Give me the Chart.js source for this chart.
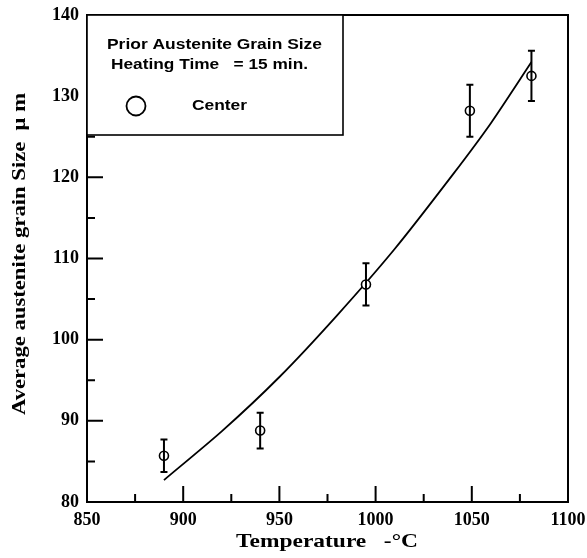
<!DOCTYPE html>
<html>
<head>
<meta charset="utf-8">
<script src="https://cdn.jsdelivr.net/npm/chart.js@4.4.1/dist/chart.umd.min.js"></script>
<style>
  html, body { margin: 0; padding: 0; background: #fff; }
  #wrap { width: 587px; height: 558px; }
</style>
</head>
<body>
<div id="wrap"><canvas id="grafico"></canvas></div>
<script>
// datos
const temperaturas = [890, 940, 995, 1049, 1081];
const tamanoGrano = [85.7, 88.8, 106.8, 128.2, 132.5];
const errorGrano = [2.0, 2.2, 2.6, 3.2, 3.1];

// curva ajustada
const ajusteT = [890, 920, 950, 980, 1010, 1040, 1060, 1081];
const ajusteV = [82.7, 88.7, 95.4, 103.0, 111.2, 120.3, 126.7, 134.2];

const xTicks = [850, 900, 950, 1000, 1050, 1100];
const yTicks = [80, 90, 100, 110, 120, 130, 140];

const tituloX = 'Temperature   -°C';
const tituloY = 'Average austenite grain Size  μ m';
const leyendaTitulo = 'Prior Austenite Grain Size';
const leyendaTiempo = 'Heating Time   = 15 min.';
const leyendaSerie = 'Center';

const fuenteSerif = '"Liberation Serif", "DejaVu Serif", serif';
const fuenteSans = '"Liberation Sans", Arial, sans-serif';

// texto estirado a un ancho dado
function textoAjustado(ctx, txt, x, y, ancho) {
  const w = ctx.measureText(txt).width;
  ctx.save();
  ctx.translate(x, y);
  ctx.scale(ancho / w, 1);
  ctx.fillText(txt, 0, 0);
  ctx.restore();
}

// marco, ticks hacia dentro, barras de error, titulos y leyenda
const pluginDibujo = {
  id: 'dibujo',
  afterDatasetsDraw(chart) {
    const ctx = chart.ctx;
    const xs = chart.scales.x, ys = chart.scales.y;
    ctx.save();
    ctx.strokeStyle = '#000';
    ctx.lineWidth = 2;
    temperaturas.forEach((t, i) => {
      const px = xs.getPixelForValue(t);
      const top = ys.getPixelForValue(tamanoGrano[i] + errorGrano[i]);
      const bot = ys.getPixelForValue(tamanoGrano[i] - errorGrano[i]);
      ctx.beginPath();
      ctx.moveTo(px, top); ctx.lineTo(px, bot);
      ctx.moveTo(px - 3.5, top); ctx.lineTo(px + 3.5, top);
      ctx.moveTo(px - 3.5, bot); ctx.lineTo(px + 3.5, bot);
      ctx.stroke();
    });
    ctx.restore();
  },
  afterDraw(chart) {
    const ctx = chart.ctx;
    const a = chart.chartArea;
    const xs = chart.scales.x, ys = chart.scales.y;
    ctx.save();
    ctx.strokeStyle = '#000';
    ctx.lineWidth = 2;
    ctx.strokeRect(a.left, a.top, a.right - a.left, a.bottom - a.top);

    ctx.beginPath();
    xs.ticks.forEach(tk => {
      if (tk.value <= xs.min || tk.value >= xs.max) return;
      const px = xs.getPixelForValue(tk.value);
      const len = tk.value % 50 === 0 ? 16 : 8;
      ctx.moveTo(px, a.bottom); ctx.lineTo(px, a.bottom - len);
    });
    ys.ticks.forEach(tk => {
      if (tk.value <= ys.min || tk.value >= ys.max) return;
      const py = ys.getPixelForValue(tk.value);
      const len = tk.value % 10 === 0 ? 16 : 8;
      ctx.moveTo(a.left, py); ctx.lineTo(a.left + len, py);
    });
    ctx.stroke();

    // titulos de ejes
    ctx.fillStyle = '#000';
    ctx.textBaseline = 'middle';
    ctx.textAlign = 'left';
    ctx.font = 'bold 19px ' + fuenteSerif;
    textoAjustado(ctx, tituloX, 236, 542, 182);
    ctx.save();
    ctx.translate(20, 415);
    ctx.rotate(-Math.PI / 2);
    textoAjustado(ctx, tituloY, 0, 0, 322);
    ctx.restore();

    // leyenda
    const bx = a.left, by = a.top, bw = 256, bh = 120;
    ctx.fillStyle = '#fff';
    ctx.fillRect(bx, by, bw, bh);
    ctx.lineWidth = 1.6;
    ctx.strokeRect(bx, by, bw, bh);
    ctx.fillStyle = '#000';
    ctx.font = 'bold 14px ' + fuenteSans;
    textoAjustado(ctx, leyendaTitulo, bx + 20, by + 30, 215);
    textoAjustado(ctx, leyendaTiempo, bx + 24, by + 50, 197);
    textoAjustado(ctx, leyendaSerie, bx + 105, by + 91, 55);
    ctx.lineWidth = 1.8;
    ctx.beginPath();
    ctx.arc(bx + 49, by + 91, 9.5, 0, Math.PI * 2);
    ctx.stroke();
    ctx.restore();
  }
};

new Chart(document.getElementById('grafico'), {
  type: 'scatter',
  data: {
    datasets: [
      {
        label: 'Center',
        data: temperaturas.map((t, i) => ({ x: t, y: tamanoGrano[i] })),
        pointStyle: 'circle',
        pointRadius: 4.5,
        pointBorderWidth: 1.6,
        pointBorderColor: '#000',
        pointBackgroundColor: '#fff'
      },
      {
        type: 'line',
        label: 'Ajuste',
        data: ajusteT.map((t, i) => ({ x: t, y: ajusteV[i] })),
        borderColor: '#000',
        borderWidth: 1.8,
        pointRadius: 0,
        tension: 0.25,
        fill: false
      }
    ]
  },
  options: {
    responsive: true,
    maintainAspectRatio: false,
    animation: false,
    layout: { padding: { top: 15, right: 19, left: 0, bottom: 0 } },
    plugins: {
      legend: { display: false },
      tooltip: { enabled: false }
    },
    scales: {
      x: {
        type: 'linear',
        min: 850,
        max: 1100,
        afterFit(s) { s.height = 56; s.paddingLeft = 0; s.paddingRight = 0; },
        grid: { display: false, drawTicks: false },
        border: { display: false },
        ticks: {
          stepSize: 25,
          padding: 8,
          color: '#000',
          font: { family: fuenteSerif, size: 18, weight: 'bold' },
          callback: v => xTicks.includes(v) ? String(v) : ''
        }
      },
      y: {
        type: 'linear',
        min: 80,
        max: 140,
        afterFit(s) { s.width = 87; s.paddingTop = 0; s.paddingBottom = 0; },
        grid: { display: false, drawTicks: false },
        border: { display: false },
        ticks: {
          stepSize: 5,
          padding: 8,
          color: '#000',
          font: { family: fuenteSerif, size: 18, weight: 'bold' },
          callback: v => yTicks.includes(v) ? String(v) : ''
        }
      }
    }
  },
  plugins: [pluginDibujo]
});
</script>
</body>
</html>
